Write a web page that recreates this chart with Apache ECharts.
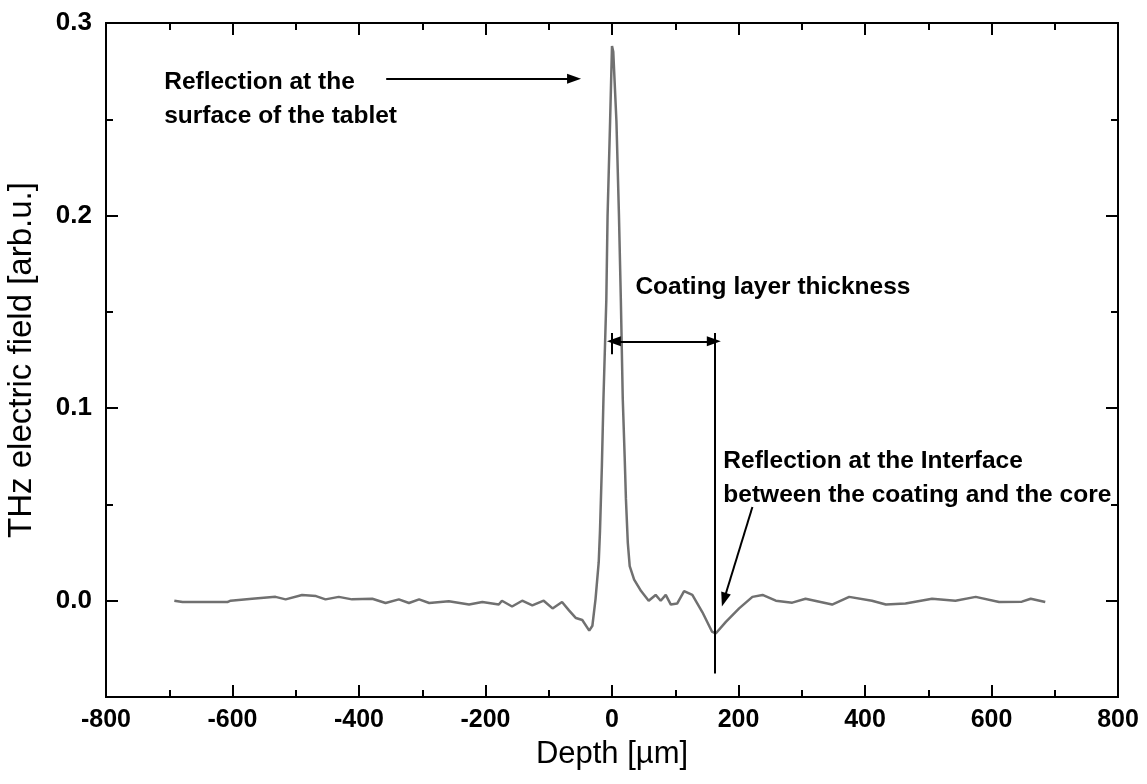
<!DOCTYPE html>
<html>
<head>
<meta charset="utf-8">
<script src="https://cdn.jsdelivr.net/npm/echarts@6/dist/echarts.min.js"></script>
<style>
html,body{margin:0;padding:0;background:#fff;}
#chart{width:1147px;height:784px;}
</style>
</head>
<body>
<div id="chart"></div>
<script>
// Depth values (µm) and THz electric field (arb.u.)
var depthUm = [-692,-679,-640,-608,-603,-569,-532,-516,-490,-468,-453,-432,-411,-379,-358,-337,-321,-305,-289,-258,-226,-205,-179,-174,-158,-142,-126,-108,-94,-79,-68,-57,-47,-36,-31,-26,-21,-19,-16,-13.5,-9,-7,-3,0,2,7,11,14,17,20,22,25,28,35,46,58,69,77,85,93,103,114,127,143,158,164,180,201,222,238,259,285,306,348,375,411,433,464,506,543,575,612,648,662,685];
var field = [0.000,-0.0007,-0.0007,-0.0007,0.000,0.001,0.002,0.0007,0.003,0.0024,0.0007,0.002,0.0007,0.001,-0.0012,0.0007,-0.0012,0.0007,-0.0012,-0.0003,-0.002,-0.0007,-0.002,0.000,-0.003,0.000,-0.0024,0.000,-0.004,-0.0007,-0.005,-0.009,-0.010,-0.0155,-0.013,0.001,0.02,0.036,0.07,0.105,0.156,0.2,0.249,0.288,0.285,0.249,0.2,0.156,0.105,0.075,0.053,0.03,0.018,0.011,0.005,0.000,0.003,0.000,0.003,-0.002,-0.0015,0.005,0.003,-0.006,-0.016,-0.017,-0.011,-0.004,0.002,0.003,0.000,-0.001,0.001,-0.002,0.002,0.000,-0.002,-0.0015,0.001,0.000,0.002,-0.0007,-0.0005,0.001,-0.0007];

var xTickStep = 200;
var yMajorTicks = [0, 0.1, 0.2, 0.3];
var yMinorTicks = [0.05, 0.15, 0.25];

// annotation texts anchored in data coordinates (top-left of text block)
var annotTexts = ['Reflection at the\nsurface of the tablet', 'Coating layer thickness', 'Reflection at the Interface\nbetween the coating and the core'];
var annotAnchorX = [-708, 37, 176];
var annotAnchorY = [0.278, 0.1715, 0.081];

// annotation lines in data coordinates: [x1,y1,x2,y2,startArrow,endArrow]
var annotLines = [
  [-357, 0.271, -60, 0.271, false, true],
  [3, 0.1347, 161, 0.1347, true, true],
  [0, 0.139, 0, 0.128, false, false],
  [162.5, 0.139, 162.5, -0.0378, false, false],
  [222, 0.0487, 177, 0.0005, false, true]
];

var FONT = "'Liberation Sans', Arial, Helvetica, sans-serif";
var chart = echarts.init(document.getElementById('chart'), null, {renderer: 'canvas'});

var seriesData = depthUm.map(function (d, i) { return [d, field[i]]; });

var markLineData = annotLines.map(function (l) {
  return [
    {coord: [l[0], l[1]], symbol: l[4] ? 'triangle' : 'none', symbolSize: l[4] ? [10, 14] : 0},
    {coord: [l[2], l[3]], symbol: l[5] ? 'triangle' : 'none', symbolSize: l[5] ? [10, 14] : 0}
  ];
});

var textData = annotTexts.map(function (t, i) {
  return {value: [annotAnchorX[i], annotAnchorY[i]], name: t};
});

var axisCommon = {
  type: 'value',
  axisLine: {show: true, onZero: false, lineStyle: {color: '#000', width: 2}},
  splitLine: {show: false}
};

var option = {
  animation: false,
  backgroundColor: '#fff',
  grid: {left: 106, right: 29, top: 23, bottom: 87, containLabel: false, outerBoundsMode: 'none'},
  xAxis: [
    Object.assign({}, axisCommon, {
      position: 'bottom', min: -800, max: 800, interval: xTickStep,
      name: 'Depth [\u00b5m]', nameLocation: 'middle', nameGap: 42,
      nameTextStyle: {fontFamily: FONT, fontSize: 31, color: '#000'},
      axisTick: {show: true, inside: true, length: 12, lineStyle: {color: '#000', width: 2}},
      minorTick: {show: true, splitNumber: 2, length: 7, lineStyle: {color: '#000', width: 2}},
      axisLabel: {show: true, margin: 11, fontFamily: FONT, fontSize: 25, fontWeight: 'bold', color: '#000'}
    }),
    Object.assign({}, axisCommon, {
      position: 'top', min: -800, max: 800, interval: xTickStep,
      axisTick: {show: true, inside: true, length: 12, lineStyle: {color: '#000', width: 2}},
      minorTick: {show: true, splitNumber: 2, length: 7, lineStyle: {color: '#000', width: 2}},
      axisLabel: {show: false}
    })
  ],
  yAxis: [
    Object.assign({}, axisCommon, {
      position: 'left', min: -0.05, max: 0.3,
      name: 'THz electric field [arb.u.]', nameLocation: 'middle', nameGap: 68,
      nameTextStyle: {fontFamily: FONT, fontSize: 33, color: '#000'},
      axisTick: {show: true, inside: true, length: 12, customValues: yMajorTicks, lineStyle: {color: '#000', width: 2}},
      axisLabel: {show: true, margin: 14, customValues: yMajorTicks, fontFamily: FONT, fontSize: 26, fontWeight: 'bold', color: '#000',
        formatter: function (v) { return v.toFixed(1); }}
    }),
    Object.assign({}, axisCommon, {
      position: 'right', min: -0.05, max: 0.3,
      axisTick: {show: true, inside: true, length: 12, customValues: yMajorTicks, lineStyle: {color: '#000', width: 2}},
      axisLabel: {show: false}
    }),
    Object.assign({}, axisCommon, {
      position: 'left', min: -0.05, max: 0.3,
      axisTick: {show: true, inside: true, length: 7, customValues: yMinorTicks, lineStyle: {color: '#000', width: 2}},
      axisLabel: {show: false}
    }),
    Object.assign({}, axisCommon, {
      position: 'right', min: -0.05, max: 0.3,
      axisTick: {show: true, inside: true, length: 7, customValues: yMinorTicks, lineStyle: {color: '#000', width: 2}},
      axisLabel: {show: false}
    })
  ],
  series: [
    {
      type: 'line',
      xAxisIndex: 0, yAxisIndex: 0,
      data: seriesData,
      showSymbol: false,
      symbol: 'none',
      lineStyle: {color: '#707070', width: 2.5},
      silent: true,
      z: 2,
      markLine: {
        silent: true,
        animation: false,
        label: {show: false},
        lineStyle: {color: '#000', width: 2, type: 'solid'},
        emphasis: {disabled: true},
        data: markLineData
      }
    },
    {
      type: 'scatter',
      xAxisIndex: 0, yAxisIndex: 0,
      data: textData,
      symbolSize: 0,
      silent: true,
      z: 5,
      itemStyle: {opacity: 1},
      label: {
        show: true,
        position: [0, 0],
        align: 'left',
        verticalAlign: 'top',
        formatter: function (p) { return p.name; },
        fontFamily: FONT,
        fontSize: 24.5,
        fontWeight: 'bold',
        lineHeight: 34,
        color: '#000',
        opacity: 1,
        textBorderWidth: 0
      }
    }
  ]
};
chart.setOption(option);
</script>
</body>
</html>
